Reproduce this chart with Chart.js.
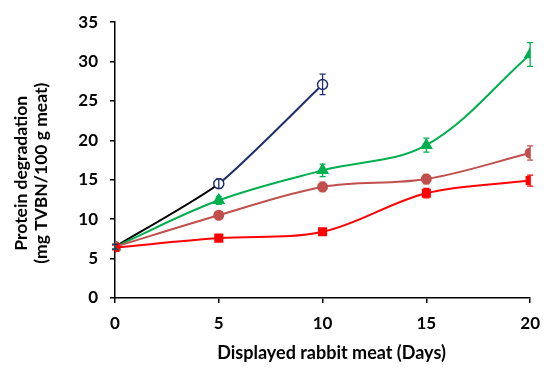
<!DOCTYPE html>
<html>
<head>
<meta charset="utf-8">
<script src="https://cdn.jsdelivr.net/npm/chart.js@4.4.0/dist/chart.umd.min.js"></script>
<style>
  html, body { margin: 0; padding: 0; background: #fff; }
  #wrap { width: 550px; height: 372px; }
</style>
</head>
<body>
<div id="wrap"><canvas id="grafik" width="550" height="372"></canvas></div>
<script>
// hari penyimpanan
const days = [0, 5, 10, 15, 20];

// nilai TVBN tiap perlakuan (mg/100 g)
const seriBiru = [6.5, 14.5, 27.1];
const errBiru = [0.3, 0.6, 1.3];
const seriHijau = [6.5, 12.4, 16.2, 19.4, 30.9];
const errHijau = [0.3, 0.5, 0.8, 0.9, 1.5];
const seriCoklat = [6.5, 10.5, 14.1, 15.1, 18.4];
const errCoklat = [0.3, 0.4, 0.6, 0.6, 0.9];
const seriMerah = [6.4, 7.6, 8.4, 13.3, 14.9];
const errMerah = [0.3, 0.3, 0.3, 0.6, 0.7];

const yTicks = [0, 5, 10, 15, 20, 25, 30, 35];

function toPoints(vals) {
    return vals.map((v, i) => ({ x: days[i], y: v }));
}

// plugin kecil untuk error bar
const errorBars = {
    id: 'errorBars',
    afterDatasetsDraw(chart) {
        const ctx = chart.ctx;
        const yScale = chart.scales.y;
        chart.data.datasets.forEach((ds, di) => {
            if (!ds.err) return;
            const meta = chart.getDatasetMeta(di);
            ctx.save();
            ctx.strokeStyle = ds.errColor || ds.borderColor;
            ctx.lineWidth = 1.3;
            meta.data.forEach((pt, i) => {
                const e = ds.err[i];
                if (!e) return;
                const yTop = yScale.getPixelForValue(ds.data[i].y + e);
                const yBot = yScale.getPixelForValue(ds.data[i].y - e);
                ctx.beginPath();
                ctx.moveTo(pt.x, yTop);
                ctx.lineTo(pt.x, yBot);
                ctx.moveTo(pt.x - 3, yTop);
                ctx.lineTo(pt.x + 3, yTop);
                ctx.moveTo(pt.x - 3, yBot);
                ctx.lineTo(pt.x + 3, yBot);
                ctx.stroke();
            });
            ctx.restore();
        });
    }
};

const navy = '#1F2F6B';

const ctx = document.getElementById('grafik').getContext('2d');
const grafik = new Chart(ctx, {
    type: 'line',
    data: {
        datasets: [
            {
                label: 'Merah',
                data: toPoints(seriMerah),
                err: errMerah,
                borderColor: '#FF0000',
                backgroundColor: '#FF0000',
                pointStyle: 'rect',
                pointRadius: 5,
                borderWidth: 2,
                tension: 0.35,
                order: 0
            },
            {
                label: 'Coklat',
                data: toPoints(seriCoklat),
                err: errCoklat,
                borderColor: '#C0504D',
                backgroundColor: '#C0504D',
                pointStyle: 'circle',
                pointRadius: 4.5,
                borderWidth: 2,
                tension: 0.35,
                order: 1
            },
            {
                label: 'Hijau',
                data: toPoints(seriHijau),
                err: errHijau,
                borderColor: '#00B050',
                backgroundColor: '#00B050',
                pointStyle: 'triangle',
                pointRadius: 5.5,
                borderWidth: 2,
                tension: 0.35,
                order: 2
            },
            {
                label: 'Biru',
                data: toPoints(seriBiru),
                err: errBiru,
                errColor: navy,
                borderColor: navy,
                backgroundColor: '#FFFFFF',
                pointBorderColor: navy,
                pointBorderWidth: 1.5,
                pointStyle: 'circle',
                pointRadius: 5,
                borderWidth: 2,
                tension: 0.2,
                order: 3,
                segment: {
                    borderColor: c => c.p0DataIndex === 0 ? '#000000' : navy
                }
            }
        ]
    },
    options: {
        responsive: false,
        animation: false,
        layout: { padding: { left: 0, right: 17, top: 17, bottom: 0 } },
        plugins: {
            legend: { display: false },
            tooltip: { enabled: false }
        },
        scales: {
            x: {
                type: 'linear',
                min: 0,
                max: 20,
                afterBuildTicks: s => { s.ticks = days.map(v => ({ value: v })); },
                ticks: {
                    color: '#000',
                    font: { family: 'Lato', size: 17, weight: 'bold' },
                    padding: 10
                },
                grid: { drawOnChartArea: false, drawTicks: true, tickLength: 5, color: '#000', lineWidth: 1.5 },
                border: { color: '#000', width: 1.5 },
                title: {
                    display: true,
                    text: '\u2002\u2002Displayed rabbit meat (Days)',
                    color: '#000',
                    font: { family: 'Lato', size: 18, weight: 'bold' },
                    padding: { top: 0, bottom: 8 }
                },
                afterFit: s => { s.height = 74; }
            },
            y: {
                min: 0,
                max: 35,
                afterBuildTicks: s => { s.ticks = yTicks.map(v => ({ value: v })); },
                ticks: {
                    color: '#000',
                    font: { family: 'Lato', size: 17, weight: 'bold' },
                    padding: 12
                },
                grid: { drawOnChartArea: false, drawTicks: true, tickLength: 5, color: '#000', lineWidth: 1.5 },
                border: { color: '#000', width: 1.5 },
                title: {
                    display: true,
                    text: ['Protein degradation\u2002\u2002\u2002', '(mg TVBN/100 g meat)\u2002\u2002\u2002'],
                    color: '#000',
                    font: { family: 'Lato', size: 17.5, weight: 'bold', lineHeight: 1.15 },
                    padding: { top: 11, bottom: 0 }
                },
                afterFit: s => { s.width = 115; }
            }
        }
    },
    plugins: [errorBars]
});
</script>
</body>
</html>
